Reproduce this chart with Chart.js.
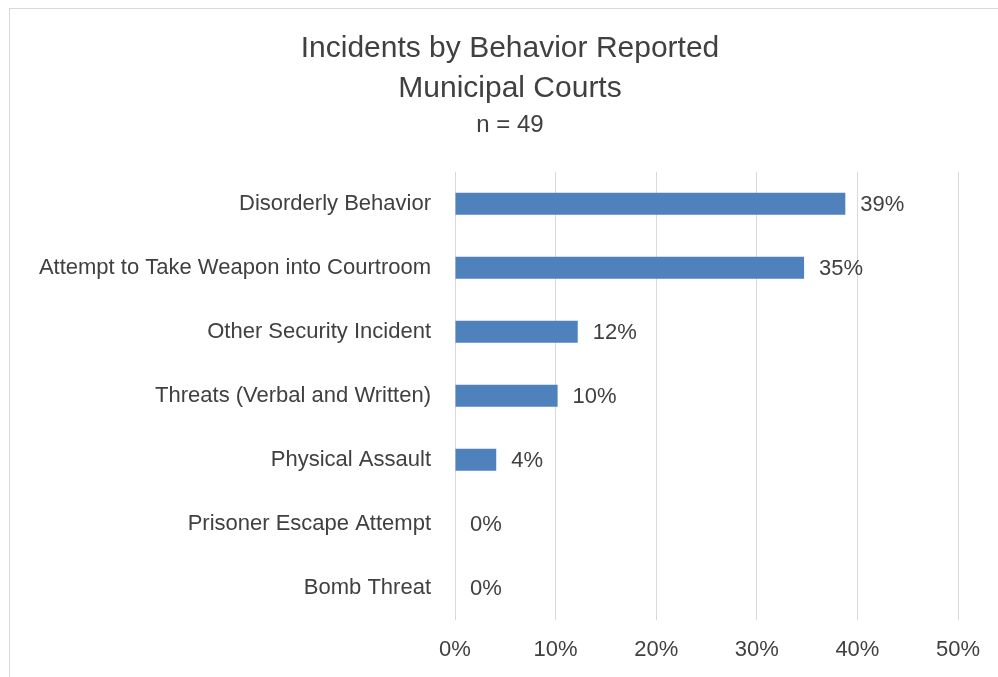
<!DOCTYPE html>
<html>
<head>
<meta charset="utf-8">
<script src="https://cdn.jsdelivr.net/npm/chart.js@4/dist/chart.umd.min.js"></script>
<style>
  html, body { margin: 0; padding: 0; background: #fff; overflow: hidden; }
  #frame {
    position: absolute; left: 9px; top: 8px;
    width: 1000px; height: 678px;
    border: 1px solid #D9D9D9; background: #fff;
  }
  canvas { display: block; }
</style>
</head>
<body>
<div id="frame"><canvas id="chart" width="1000" height="678"></canvas></div>
<script>
// chart data
const categories = [
    'Disorderly Behavior',
    'Attempt to Take Weapon into Courtroom',
    'Other Security Incident',
    'Threats (Verbal and Written)',
    'Physical Assault',
    'Prisoner Escape Attempt',
    'Bomb Threat'
];
const percentValues = [38.8, 34.7, 12.2, 10.2, 4.1, 0, 0];
const xTickValues = [0, 10, 20, 30, 40, 50];

const titleLines = ['Incidents by Behavior Reported', 'Municipal Courts'];
const subtitleText = 'n = 49';

const textColor = '#404040';
const fontFamily = "'Liberation Sans', Arial, sans-serif";

// little plugin to write the % next to each bar (no datalabels plugin here)
const valueLabels = {
    id: 'valueLabels',
    afterDatasetsDraw(chart) {
        const { ctx } = chart;
        const meta = chart.getDatasetMeta(0);
        ctx.save();
        ctx.font = '22px ' + fontFamily;
        ctx.fillStyle = textColor;
        ctx.textAlign = 'left';
        ctx.textBaseline = 'middle';
        meta.data.forEach((bar, i) => {
            const txt = Math.round(percentValues[i]) + '%';
            ctx.fillText(txt, bar.x + 15, bar.y + 1);
        });
        ctx.restore();
    }
};

const ctx = document.getElementById('chart').getContext('2d');
new Chart(ctx, {
    type: 'bar',
    data: {
        labels: categories,
        datasets: [{
            data: percentValues,
            backgroundColor: '#4F81BD',
            borderWidth: 0,
            barPercentage: 0.5,
            categoryPercentage: 0.69
        }]
    },
    options: {
        indexAxis: 'y',
        responsive: false,
        animation: false,
        layout: { padding: { left: 0, right: 0, top: 20, bottom: 7 } },
        plugins: {
            legend: { display: false },
            tooltip: { enabled: false },
            title: {
                display: true,
                text: titleLines,
                color: textColor,
                font: { family: fontFamily, size: 30, weight: 'normal', lineHeight: 1.333 },
                padding: { top: 0, bottom: 2 }
            },
            subtitle: {
                display: true,
                text: subtitleText,
                color: textColor,
                font: { family: fontFamily, size: 24, weight: 'normal', lineHeight: 1.2 },
                padding: { top: 0, bottom: 32 }
            }
        },
        scales: {
            x: {
                min: 0,
                max: 50,
                afterBuildTicks(scale) {
                    scale.ticks = xTickValues.map(v => ({ value: v }));
                },
                grid: { color: '#D9D9D9', lineWidth: 1, drawTicks: false },
                border: { display: false },
                ticks: {
                    color: textColor,
                    padding: 17,
                    font: { family: fontFamily, size: 22 },
                    callback: v => v + '%'
                }
            },
            y: {
                grid: { display: false },
                border: { display: false },
                afterFit(scale) { scale.width = 445; },
                ticks: {
                    color: textColor,
                    padding: 16,
                    font: { family: fontFamily, size: 22 }
                }
            },
            // empty spacer on the right so the title stays centred on the whole box
            spacer: {
                type: 'category',
                axis: 'y',
                position: 'right',
                grid: { display: false },
                border: { display: false },
                ticks: { display: false },
                afterFit(scale) { scale.width = 52; }
            }
        }
    },
    plugins: [valueLabels]
});
</script>
</body>
</html>
